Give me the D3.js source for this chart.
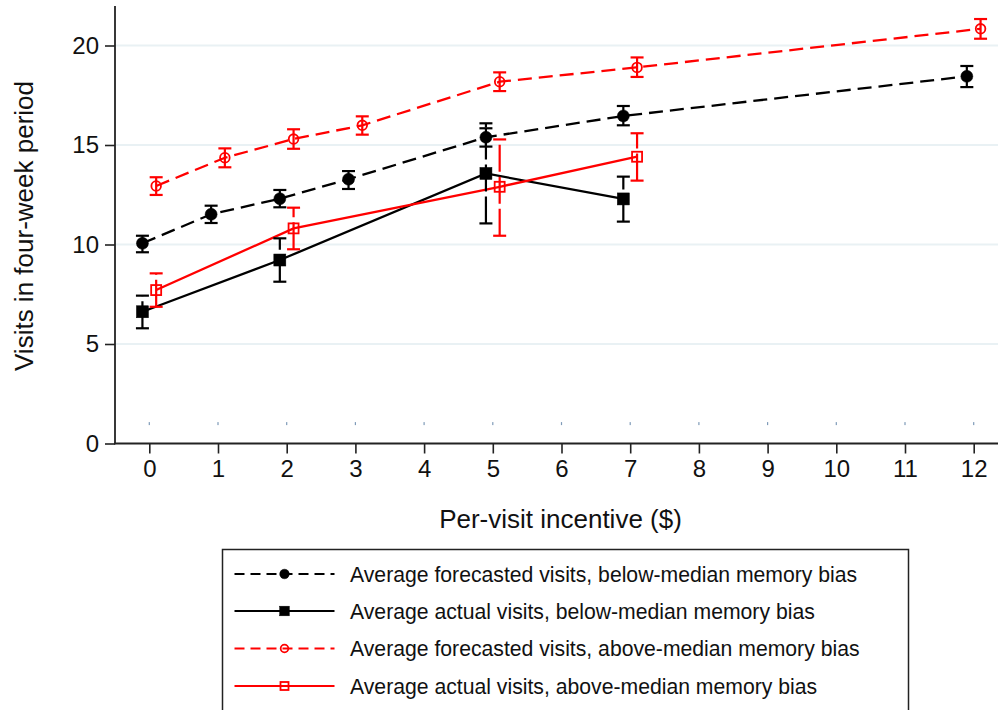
<!DOCTYPE html>
<html>
<head>
<meta charset="utf-8">
<script src="https://cdn.jsdelivr.net/npm/d3@7"></script>
<style>
  html, body { margin: 0; padding: 0; background: #fff; }
  svg { display: block; font-family: "Liberation Sans", Arial, Helvetica, sans-serif; }
</style>
</head>
<body>
<svg id="chart" width="998" height="710"></svg>
<script>
// ---------------- data ----------------
const xTicks = [0,1,2,3,4,5,6,7,8,9,10,11,12];
const yTicks = [0,5,10,15,20];

const forecastX = [0, 1, 2, 3, 5, 7, 12];
const actualX = [0, 2, 5, 7];

const belowForecast   = [10.06, 11.52, 12.30, 13.28, 15.39, 16.46, 18.45];
const belowForecastLo = [9.61, 11.08, 11.87, 12.79, 14.92, 15.99, 17.91];
const belowForecastHi = [10.44, 11.95, 12.74, 13.69, 15.84, 16.96, 18.97];

const belowActual   = [6.62, 9.22, 13.57, 12.29];
const belowActualLo = [5.79, 8.13, 11.06, 11.15];
const belowActualHi = [7.43, 10.31, 16.09, 13.41];

const aboveForecast   = [12.94, 14.36, 15.30, 15.99, 18.18, 18.90, 20.84];
const aboveForecastLo = [12.49, 13.88, 14.81, 15.52, 17.71, 18.42, 20.34];
const aboveForecastHi = [13.38, 14.83, 15.79, 16.44, 18.65, 19.40, 21.33];

const aboveActual   = [7.71, 10.81, 12.90, 14.41];
const aboveActualLo = [6.87, 9.76, 10.44, 13.21];
const aboveActualHi = [8.55, 11.85, 15.28, 15.59];

// stray marks along y = 1 at every tick (as in the source figure)
const strayY = 1;

const legendLabels = [
  "Average forecasted visits, below-median memory bias",
  "Average actual visits, below-median memory bias",
  "Average forecasted visits, above-median memory bias",
  "Average actual visits, above-median memory bias"
];

// ---------------- layout ----------------
const svg = d3.select("#chart");
const x = d3.scaleLinear().domain([0, 12]).range([149.3, 973.7]);
const y = d3.scaleLinear().domain([0, 20]).range([443.5, 45.5]);
const plotLeft = 115, plotRight = 998, plotTop = 6, plotBottom = 443.5;
const offset = 0.1;

// gridlines
svg.append("g").selectAll("line")
  .data(yTicks.filter(d => d > 0))
  .join("line")
  .attr("x1", plotLeft).attr("x2", plotRight)
  .attr("y1", d => y(d)).attr("y2", d => y(d))
  .attr("stroke", "#e9f1f4").attr("stroke-width", 2);

// stray marks
svg.append("g").selectAll("rect")
  .data(xTicks)
  .join("rect")
  .attr("x", d => x(d) - 0.6).attr("y", y(strayY) - 1.5)
  .attr("width", 1.2).attr("height", 3)
  .attr("fill", "#7f9bb8");

// axes
const yAxis = d3.axisLeft(y).tickValues(yTicks).tickSize(10).tickPadding(6).tickFormat(d3.format("d"));
const gy = svg.append("g").attr("transform", `translate(${plotLeft},0)`).call(yAxis);
gy.select(".domain").remove();
gy.selectAll(".tick line").attr("stroke", "#222").attr("stroke-width", 1.6);
gy.selectAll(".tick text").attr("font-size", 24).attr("fill", "#111")
  .attr("font-family", "'Liberation Sans', Arial, sans-serif");
svg.append("line").attr("x1", plotLeft).attr("x2", plotLeft)
  .attr("y1", plotTop).attr("y2", plotBottom + 0.8)
  .attr("stroke", "#222").attr("stroke-width", 1.8);

const xAxis = d3.axisBottom(x).tickValues(xTicks).tickSize(10).tickPadding(6).tickFormat(d3.format("d"));
const gx = svg.append("g").attr("transform", `translate(0,${plotBottom})`).call(xAxis);
gx.select(".domain").remove();
gx.selectAll(".tick line").attr("stroke", "#222").attr("stroke-width", 1.6);
gx.selectAll(".tick text").attr("font-size", 24).attr("fill", "#111")
  .attr("font-family", "'Liberation Sans', Arial, sans-serif");
svg.append("line").attr("x1", plotLeft - 0.9).attr("x2", plotRight)
  .attr("y1", plotBottom).attr("y2", plotBottom)
  .attr("stroke", "#222").attr("stroke-width", 1.8);

// axis titles
svg.append("text").attr("x", 560.5).attr("y", 528)
  .attr("text-anchor", "middle").attr("font-size", 26).attr("fill", "#111")
  .text("Per-visit incentive ($)");
svg.append("text").attr("transform", "translate(33,226) rotate(-90)")
  .attr("text-anchor", "middle").attr("font-size", 26).attr("fill", "#111")
  .text("Visits in four-week period");

// ---------------- series ----------------
const series = [
  { xs: forecastX, v: belowForecast, lo: belowForecastLo, hi: belowForecastHi, dx: -offset, color: "#000", dash: "14,7", marker: "circle", filled: true },
  { xs: actualX, v: belowActual, lo: belowActualLo, hi: belowActualHi, dx: -offset, color: "#000", dash: null, marker: "square", filled: true },
  { xs: forecastX, v: aboveForecast, lo: aboveForecastLo, hi: aboveForecastHi, dx: offset, color: "#ff0000", dash: "14,7", marker: "circle", filled: false },
  { xs: actualX, v: aboveActual, lo: aboveActualLo, hi: aboveActualHi, dx: offset, color: "#ff0000", dash: null, marker: "square", filled: false }
];

const line = d3.line().x(d => x(d.x)).y(d => y(d.v));

series.forEach(s => {
  const pts = s.xs.map((xx, i) => ({ x: xx + s.dx, v: s.v[i], lo: s.lo[i], hi: s.hi[i] }));
  const g = svg.append("g");
  g.append("path").datum(pts).attr("d", line)
    .attr("fill", "none").attr("stroke", s.color).attr("stroke-width", 2.3)
    .attr("stroke-dasharray", s.dash);
});

series.forEach(s => {
  const pts = s.xs.map((xx, i) => ({ x: xx + s.dx, v: s.v[i], lo: s.lo[i], hi: s.hi[i] }));
  const g = svg.append("g");
  // error bars (drawn bottom -> top, long dash)
  g.selectAll("line.bar").data(pts).join("line").attr("class", "bar")
    .attr("x1", d => x(d.x)).attr("x2", d => x(d.x))
    .attr("y1", d => y(d.lo)).attr("y2", d => y(d.hi))
    .attr("stroke", s.color).attr("stroke-width", 2.2)
    .attr("stroke-dasharray", "27,5");
  g.selectAll("line.capHi").data(pts).join("line").attr("class", "capHi")
    .attr("x1", d => x(d.x) - 6.5).attr("x2", d => x(d.x) + 6.5)
    .attr("y1", d => y(d.hi)).attr("y2", d => y(d.hi))
    .attr("stroke", s.color).attr("stroke-width", 2.2);
  g.selectAll("line.capLo").data(pts).join("line").attr("class", "capLo")
    .attr("x1", d => x(d.x) - 6.5).attr("x2", d => x(d.x) + 6.5)
    .attr("y1", d => y(d.lo)).attr("y2", d => y(d.lo))
    .attr("stroke", s.color).attr("stroke-width", 2.2);
});

function drawMarker(g, marker, filled, color, cx, cy, scale) {
  if (marker === "circle") {
    const r = filled ? 6 * scale : 4.8 * scale;
    g.append("circle").attr("cx", cx).attr("cy", cy).attr("r", r)
      .attr("fill", filled ? color : "none").attr("stroke", color)
      .attr("stroke-width", filled ? 0.5 : 1.8);
  } else {
    const h = filled ? 6 * scale : 5 * scale;
    g.append("rect").attr("x", cx - h).attr("y", cy - h).attr("width", 2 * h).attr("height", 2 * h)
      .attr("fill", filled ? color : "none").attr("stroke", color)
      .attr("stroke-width", filled ? 0.5 : 1.8);
  }
}

series.forEach(s => {
  const g = svg.append("g");
  s.xs.forEach((xx, i) => drawMarker(g, s.marker, s.filled, s.color, x(xx + s.dx), y(s.v[i]), 1));
});

// ---------------- legend ----------------
const lg = svg.append("g");
lg.append("rect").attr("x", 222.5).attr("y", 549.5).attr("width", 686).attr("height", 200)
  .attr("fill", "#fff").attr("stroke", "#222").attr("stroke-width", 1.5);
const rowY = [574, 611, 648.5, 686];
series.forEach((s, i) => {
  const cy = rowY[i];
  lg.append("line").attr("x1", 234.5).attr("x2", 334.5).attr("y1", cy).attr("y2", cy)
    .attr("stroke", s.color).attr("stroke-width", 2.2)
    .attr("stroke-dasharray", s.dash ? "10,6" : null);
  drawMarker(lg, s.marker, s.filled, s.color, 284.5, cy, 0.8);
  lg.append("text").attr("x", 350).attr("y", cy + 7.5)
    .attr("font-size", 21.2).attr("fill", "#111")
    .text(legendLabels[i]);
});
</script>
</body>
</html>
